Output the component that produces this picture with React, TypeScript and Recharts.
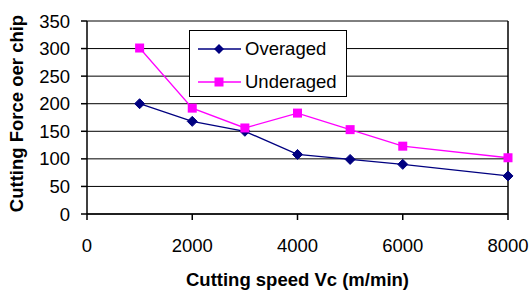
import React from "react";
import {
  LineChart,
  Line,
  XAxis,
  YAxis,
  CartesianGrid,
  Legend,
  ReferenceLine,
} from "recharts";

const speeds = [1000, 2000, 3000, 4000, 5000, 6000, 8000];
const overaged = [200, 168, 150, 108, 99, 90, 69];
const underaged = [301, 192, 156, 183, 153, 123, 102];
const xTicks = [0, 2000, 4000, 6000, 8000];
const yTicks = [0, 50, 100, 150, 200, 250, 300, 350];

const NAVY = "#000080";
const MAGENTA = "#ff00ff";
const FONT = "'Liberation Sans', Arial, sans-serif";

const data = speeds.map((s, i) => ({
  speed: s,
  overaged: overaged[i],
  underaged: underaged[i],
}));

const Diamond = (props: any) => {
  const { cx, cy } = props;
  if (cx == null || cy == null) return null;
  const r = 5;
  return (
    <polygon
      points={`${cx},${cy - r} ${cx + r},${cy} ${cx},${cy + r} ${cx - r},${cy}`}
      fill={NAVY}
      stroke={NAVY}
    />
  );
};

const Square = (props: any) => {
  const { cx, cy } = props;
  if (cx == null || cy == null) return null;
  return <rect x={cx - 4.5} y={cy - 4.5} width={9} height={9} fill={MAGENTA} />;
};

const LegendBox = () => {
  const row = (label: string, color: string, marker: "d" | "s", top: number) => (
    <div style={{ position: "absolute", left: 0, top, height: 20, width: 156 }}>
      <svg width={52} height={20} style={{ position: "absolute", left: 0, top: 0 }}>
        <line x1={8} x2={51} y1={10} y2={10} stroke={color} strokeWidth={1.3} />
        {marker === "d" ? (
          <polygon points="29,5 34,10 29,15 24,10" fill={color} />
        ) : (
          <rect x={24.5} y={5.5} width={9} height={9} fill={color} />
        )}
      </svg>
      <span
        style={{
          position: "absolute",
          left: 55,
          top: -1,
          fontFamily: FONT,
          fontSize: 18.5,
          lineHeight: "22px",
          color: "#000",
          whiteSpace: "nowrap",
        }}
      >
        {label}
      </span>
    </div>
  );
  return (
    <div
      style={{
        position: "relative",
        width: 156,
        height: 65,
        background: "#fff",
        border: "1px solid #000",
      }}
    >
      {row("Overaged", NAVY, "d", 8)}
      {row("Underaged", MAGENTA, "s", 41)}
    </div>
  );
};

const XTitle = (props: any) => {
  const vb = props.viewBox;
  return (
    <text
      x={vb.x + vb.width / 2}
      y={vb.y + 72}
      textAnchor="middle"
      fontFamily={FONT}
      fontSize={18.5}
      fontWeight="bold"
      fill="#000"
    >
      Cutting speed Vc (m/min)
    </text>
  );
};

const YTitle = (props: any) => {
  const vb = props.viewBox;
  const x = vb.x + 23;
  const y = vb.y + vb.height / 2 - 4;
  return (
    <text
      x={x}
      y={y}
      transform={`rotate(-90, ${x}, ${y})`}
      textAnchor="middle"
      fontFamily={FONT}
      fontSize={18.5}
      fontWeight="bold"
      fill="#000"
    >
      Cutting Force oer chip
    </text>
  );
};

export default function App() {
  const tickStyle = { fontFamily: FONT, fontSize: 18.5, fill: "#000" };
  return (
    <div style={{ position: "absolute", left: 0, top: 0, background: "#fff" }}>
      <LineChart
        width={529}
        height={293}
        data={data}
        margin={{ top: 21, right: 21, bottom: 19, left: 0 }}
      >
        <CartesianGrid horizontal vertical={false} stroke="#000" strokeWidth={1} />
        <XAxis
          dataKey="speed"
          type="number"
          domain={[0, 8000]}
          ticks={xTicks}
          height={60}
          tick={tickStyle}
          tickSize={6}
          tickMargin={19}
          axisLine={{ stroke: "#000", strokeWidth: 1.5 }}
          tickLine={{ stroke: "#000", strokeWidth: 1.5 }}
          label={<XTitle />}
        />
        <YAxis
          type="number"
          domain={[0, 350]}
          ticks={yTicks}
          width={87}
          tick={tickStyle}
          tickSize={6}
          tickMargin={11}
          axisLine={{ stroke: "#000", strokeWidth: 1.5 }}
          tickLine={{ stroke: "#000", strokeWidth: 1.5 }}
          label={<YTitle />}
        />
        <ReferenceLine x={8000} stroke="#000" strokeWidth={1.5} />
        <Line
          dataKey="overaged"
          name="Overaged"
          stroke={NAVY}
          strokeWidth={1.3}
          dot={<Diamond />}
          activeDot={false}
          isAnimationActive={false}
        />
        <Line
          dataKey="underaged"
          name="Underaged"
          stroke={MAGENTA}
          strokeWidth={1.3}
          dot={<Square />}
          activeDot={false}
          isAnimationActive={false}
        />
        <Legend
          layout="horizontal"
          verticalAlign="middle"
          align="center"
          content={<LegendBox />}
          wrapperStyle={{ left: 189, top: 30, width: 158, height: 67 }}
        />
      </LineChart>
    </div>
  );
}
